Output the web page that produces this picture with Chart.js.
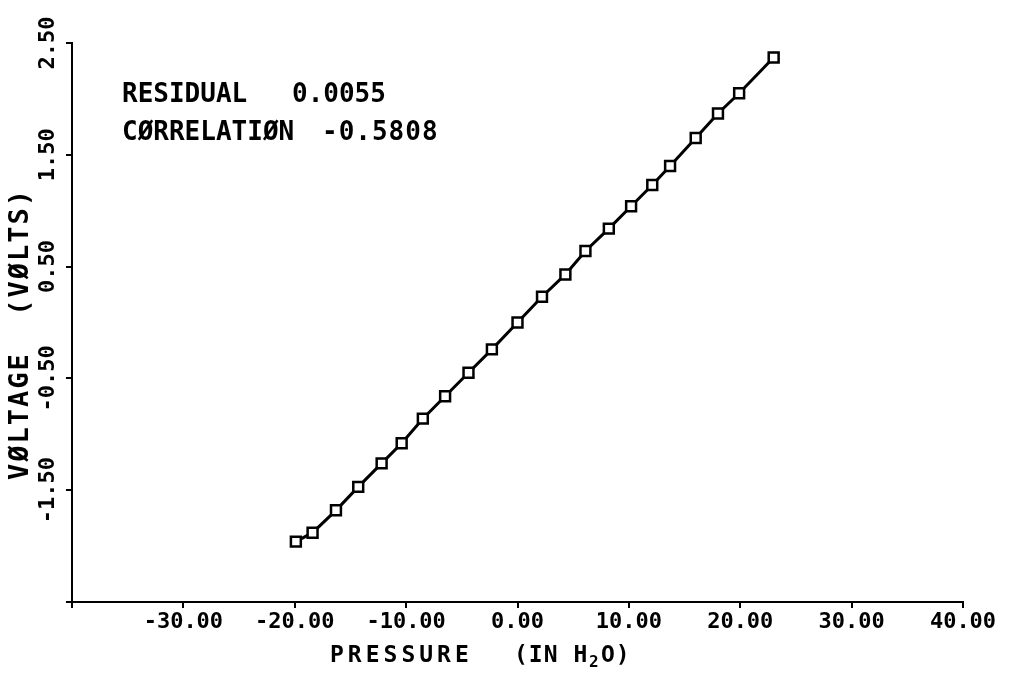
<!DOCTYPE html>
<html>
<head>
<meta charset="utf-8">
<script src="https://cdn.jsdelivr.net/npm/chart.js@4.4.1/dist/chart.umd.min.js"></script>
<style>
    html, body { margin: 0; padding: 0; background: #fff; }
</style>
</head>
<body>
<canvas id="myChart" width="1013" height="677"></canvas>
<script>
// calibration run: pressure (in H2O) against transducer output (volts)
const pressure = [-19.9, -18.4, -16.3, -14.3, -12.2, -10.4, -8.5, -6.5, -4.4, -2.3, 0.0,
    2.2, 4.3, 6.1, 8.2, 10.2, 12.1, 13.7, 16.0, 18.0, 19.9, 23.0]
const voltage = [-1.96, -1.88, -1.68, -1.47, -1.26, -1.08, -0.86, -0.66, -0.45, -0.24, 0.00,
    0.23, 0.43, 0.64, 0.84, 1.04, 1.23, 1.40, 1.65, 1.87, 2.05, 2.37]

const xTicks = [-40, -30, -20, -10, 0, 10, 20, 30, 40]
const yTicks = [-2.5, -1.5, -0.5, 0.5, 1.5, 2.5]

const residual = '0.0055'
const correlation = '-0.5808'

const mono = 'DejaVu Sans Mono'

// titles and fit stats are plain canvas text on top of the chart
const plotText = {
    id: 'plotText',
    afterDraw(chart) {
        const ctx = chart.ctx
        ctx.save()
        ctx.fillStyle = '#000'
        ctx.textBaseline = 'alphabetic'
        ctx.textAlign = 'left'

        ctx.font = 'bold 26px "' + mono + '"'
        ctx.letterSpacing = '0px'
        ctx.fillText('RESIDUAL', 122, 102)
        ctx.fillText(residual, 292, 102)
        ctx.fillText('CØRRELATIØN', 122, 140)
        ctx.letterSpacing = '1px'
        ctx.fillText(correlation, 322, 140)

        // x title, with a lowered "2" for H2O
        ctx.font = 'bold 23px "' + mono + '"'
        ctx.letterSpacing = '4px'
        ctx.fillText('PRESSURE', 330, 662)
        ctx.letterSpacing = '1px'
        ctx.fillText('(IN H', 514, 662)
        ctx.font = 'bold 16px "' + mono + '"'
        ctx.fillText('2', 589, 667)
        ctx.font = 'bold 23px "' + mono + '"'
        ctx.fillText('O)', 601, 662)

        ctx.font = 'bold 27px "' + mono + '"'
        ctx.letterSpacing = '2px'
        ctx.translate(28, 480)
        ctx.rotate(-Math.PI / 2)
        ctx.fillText('VØLTAGE  (VØLTS)', 0, 0)
        ctx.restore()
    }
}

const ctx1 = document.getElementById('myChart')

new Chart(ctx1, {
    type: 'scatter',
    data: {
        datasets: [{
            label: 'Voltage',
            data: pressure.map((p, i) => ({ x: p, y: voltage[i] })),
            showLine: true,
            borderColor: '#000',
            borderWidth: 3,
            backgroundColor: '#fff',
            pointStyle: 'rect',
            pointRadius: 7,
            pointBorderWidth: 2.5,
            pointBorderColor: '#000',
            pointBackgroundColor: '#fff',
        }]
    },
    plugins: [plotText],
    options: {
        responsive: false,
        animation: false,
        layout: {
            padding: { top: 43, right: 50, left: 0, bottom: 0 }
        },
        scales: {
            x: {
                type: 'linear',
                min: -40,
                max: 40,
                afterBuildTicks: scale => {
                    scale.ticks = xTicks.map(v => ({ value: v }))
                },
                afterFit: scale => {
                    scale.height = 75
                },
                grid: {
                    drawOnChartArea: false,
                    drawTicks: true,
                    tickLength: 6,
                    color: '#000',
                    lineWidth: 2,
                },
                border: { display: true, color: '#000', width: 2 },
                ticks: {
                    color: '#000',
                    padding: 1,
                    maxRotation: 0,
                    autoSkip: false,
                    font: { family: mono, size: 22, weight: 'bold' },
                    callback: v => v === -40 ? '' : v.toFixed(2),
                },
            },
            y: {
                type: 'linear',
                min: -2.5,
                max: 2.5,
                afterBuildTicks: scale => {
                    scale.ticks = yTicks.map(v => ({ value: v }))
                },
                afterFit: scale => {
                    scale.width = 72
                },
                grid: {
                    drawOnChartArea: false,
                    drawTicks: true,
                    tickLength: 6,
                    color: '#000',
                    lineWidth: 2,
                },
                border: { display: true, color: '#000', width: 2 },
                ticks: {
                    color: '#000',
                    minRotation: 90,
                    maxRotation: 90,
                    crossAlign: 'center',
                    padding: -15,
                    autoSkip: false,
                    font: { family: mono, size: 22, weight: 'bold' },
                    callback: v => v === -2.5 ? '' : v.toFixed(2),
                },
            },
        },
        plugins: {
            tooltip: { enabled: false },
            legend: { display: false }
        },
    },
})
</script>
</body>
</html>
